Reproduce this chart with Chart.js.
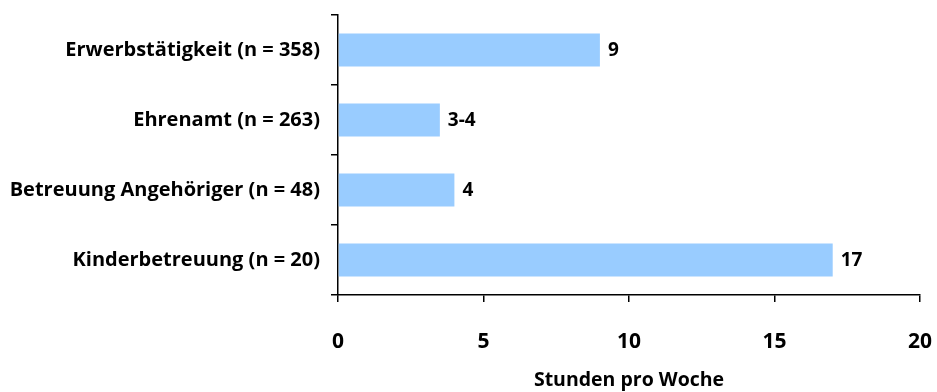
<!DOCTYPE html>
<html>
<head>
<meta charset="utf-8">
<script src="https://cdn.jsdelivr.net/npm/chart.js@4"></script>
<style>
  html, body { margin: 0; padding: 0; background: #fff; }
  #wrap { width: 937px; height: 392px; }
</style>
</head>
<body>
<div id="wrap"><canvas id="chart"></canvas></div>
<script>
// Chart data
const categories = [
  'Erwerbstätigkeit (n = 358)',
  'Ehrenamt (n = 263)',
  'Betreuung Angehöriger (n = 48)',
  'Kinderbetreuung (n = 20)'
];
const hours = [9, 3.5, 4, 17];
const valueLabels = ['9', '3-4', '4', '17'];
const xTicks = [0, 5, 10, 15, 20];

const FONT = '"Open Sans", "DejaVu Sans", sans-serif';

// Draw the value text right of each bar
const barLabels = {
  id: 'barLabels',
  afterDatasetsDraw(chart) {
    const ctx = chart.ctx;
    const meta = chart.getDatasetMeta(0);
    ctx.save();
    ctx.font = 'bold 19px ' + FONT;
    ctx.fillStyle = '#000';
    ctx.textAlign = 'left';
    ctx.textBaseline = 'middle';
    meta.data.forEach((bar, i) => {
      ctx.fillText(valueLabels[i], bar.x + 8, bar.y + 1);
    });
    ctx.restore();
  }
};

const ctx = document.getElementById('chart').getContext('2d');
const chart = new Chart(ctx, {
  type: 'bar',
  data: {
    labels: categories,
    datasets: [{
      data: hours,
      backgroundColor: '#99CCFF',
      borderWidth: 0,
      categoryPercentage: 1,
      barPercentage: 0.47
    }]
  },
  options: {
    indexAxis: 'y',
    responsive: true,
    maintainAspectRatio: false,
    animation: false,
    layout: { padding: { top: 15, right: 17, left: 0, bottom: 0 } },
    plugins: {
      legend: { display: false },
      tooltip: { enabled: false }
    },
    scales: {
      x: {
        min: 0,
        max: 20,
        afterBuildTicks: (scale) => { scale.ticks = xTicks.map(v => ({ value: v })); },
        afterFit: (scale) => {
          scale.height = 97;
          scale.paddingRight = 0;
          scale.paddingLeft = 0;
        },
        border: { display: true, color: '#000', width: 1.5 },
        grid: { drawOnChartArea: false, tickLength: 7, color: '#000', lineWidth: 1.5 },
        ticks: {
          padding: 27,
          color: '#000',
          font: { family: FONT, size: 21, weight: 'bold' }
        },
        title: {
          display: true,
          text: 'Stunden pro Woche',
          color: '#000',
          padding: { top: 14, bottom: 0 },
          font: { family: FONT, size: 19.5, weight: 'bold' }
        }
      },
      y: {
        afterFit: (scale) => {
          scale.width = 338;
          scale.paddingTop = 0;
          scale.paddingBottom = 0;
        },
        border: { display: true, color: '#000', width: 1.5 },
        grid: { drawOnChartArea: false, offset: true, tickLength: 7, color: '#000', lineWidth: 1.5 },
        ticks: {
          padding: 11,
          color: '#000',
          font: { family: FONT, size: 20, weight: 'bold' }
        }
      }
    }
  },
  plugins: [barLabels]
});
</script>
</body>
</html>
